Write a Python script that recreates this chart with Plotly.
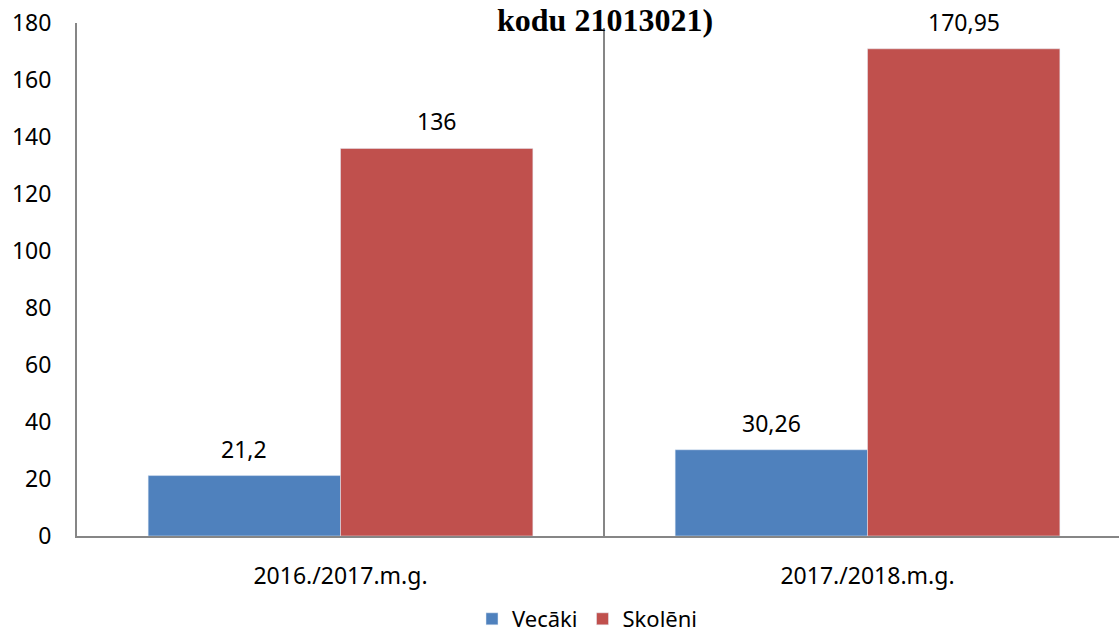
import plotly.graph_objects as go

categories = ["2016./2017.m.g.", "2017./2018.m.g."]
vecaki = [21.2, 30.26]
skoleni = [136, 170.95]
vecaki_labels = ["21,2", "30,26"]
skoleni_labels = ["136", "170,95"]
y_ticks = [0, 20, 40, 60, 80, 100, 120, 140, 160, 180]

FONT = "Noto Sans, Open Sans, sans-serif"
W, H = 1119, 636
ML, MT, MB = 77, 23, H - 536
PW, PH = W - ML, H - MT - MB
cat_px = 527.0
right_edge = -0.5 + PW / cat_px
bargap = 0.27
bar_px = cat_px * (1 - bargap) / 2

fig = go.Figure()
fig.add_trace(go.Bar(name="Vecāki", x=categories, y=vecaki, marker_color="#4F81BD"))
fig.add_trace(go.Bar(name="Skolēni", x=categories, y=skoleni, marker_color="#C0504D"))

ann = []
for labels, vals, sh in [(vecaki_labels, vecaki, -bar_px / 2), (skoleni_labels, skoleni, bar_px / 2)]:
    for c, v, t in zip(categories, vals, labels):
        ann.append(dict(x=c, y=v, xref="x", yref="y", text=t, showarrow=False,
                        xshift=sh, yshift=10, yanchor="bottom", borderpad=0,
                        font=dict(family=FONT, size=23, color="#000000")))
ann.append(dict(x=(605 - ML) / PW, y=1 + (MT - 20) / PH, xref="paper", yref="paper",
                text="<b>kodu 21013021)</b>", borderpad=0,
                showarrow=False, xanchor="center", yanchor="middle",
                font=dict(family="Liberation Serif, Times New Roman, serif", size=32, color="#000000")))

fig.update_layout(
    width=W, height=H,
    margin=dict(l=ML, r=0, t=MT, b=MB, pad=0, autoexpand=False),
    barmode="group", bargap=bargap, bargroupgap=0,
    plot_bgcolor="white", paper_bgcolor="white",
    font=dict(family=FONT, size=23, color="#000000"),
    annotations=ann,
    showlegend=True,
    legend=dict(orientation="h", xref="paper", yref="paper", x=(587 - ML) / PW,
                y=-(619 - 536) / PH,
                xanchor="center", yanchor="middle", font=dict(family=FONT, size=22),
                itemwidth=30, traceorder="normal", borderwidth=0),
    shapes=[dict(type="line", xref="x", yref="paper", x0=0.5, x1=0.5, y0=0, y1=1 - 5 / PH,
                 line=dict(color="#868686", width=2), layer="below")],
)
fig.update_xaxes(type="category", range=[-0.5, right_edge], showline=True, linecolor="#868686",
                 linewidth=2, ticks="", showgrid=False, ticklabelstandoff=18, automargin=False,
                 tickfont=dict(family=FONT, size=23))
fig.update_yaxes(range=[0, 180.001], tickvals=y_ticks, showline=True, linecolor="#868686",
                 linewidth=2, ticks="", showgrid=False, zeroline=False, ticklabelstandoff=19,
                 automargin=False, ticklabeloverflow="allow", tickfont=dict(family=FONT, size=23))

fig.write_html("out.html", config={"displayModeBar": False},
               post_script="document.body.style.margin='0';")
